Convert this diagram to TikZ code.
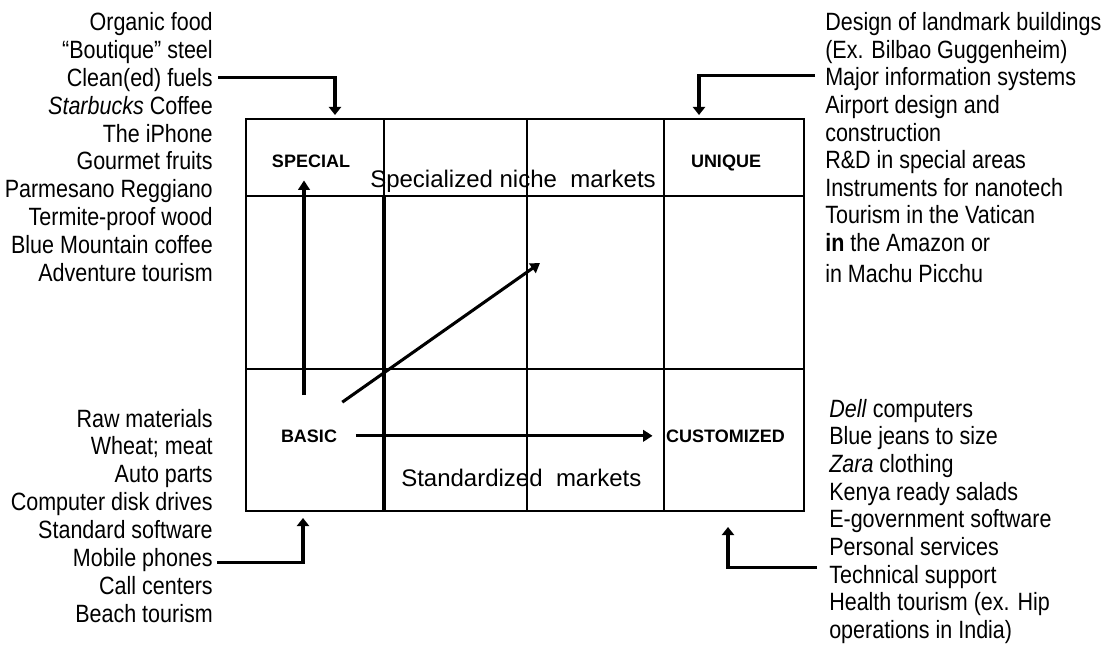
\documentclass[tikz,border=0pt]{standalone}
\usepackage{fontspec}
\setmainfont{Liberation Sans}
\newfontfamily\narrowfont[FakeStretch=0.86]{Liberation Sans}
\usetikzlibrary{arrows.meta}
\begin{document}
\begin{tikzpicture}[x=0.75pt,y=-0.75pt,
  side/.style={font=\narrowfont\fontsize{18.75}{22}\selectfont, inner sep=0pt},
  lab/.style={font=\fontsize{13.5}{16}\selectfont\bfseries, inner sep=0pt},
  big/.style={font=\fontsize{18}{21}\selectfont, inner sep=0pt},
  gridln/.style={line width=1.5pt},
  boxln/.style={line width=1.8pt},
  thickln/.style={line width=2.4pt},
  arr/.style={line width=2.3pt, -{Triangle[length=7pt,width=8.5pt]}},
  conn/.style={line width=2.3pt, -{Triangle[length=6pt,width=9pt]}}]
\useasboundingbox[fill=white] (0,0) rectangle (1110,648);

% ---- left top list
\node[side, anchor=base east] (lt1) at (213,30.5) {Organic food};
\node[side, anchor=base east] (lt2) at (213,58.4) {“Boutique” steel};
\node[side, anchor=base east] (clean) at (213,86.3) {Clean(ed) fuels};
\node[side, anchor=base east] (lt4) at (213,114.2) {\textit{Starbucks} Coffee};
\node[side, anchor=base east] (lt5) at (213,142.1) {The iPhone};
\node[side, anchor=base east] (lt6) at (213,170) {Gourmet fruits};
\node[side, anchor=base east] (lt7) at (213,197.9) {Parmesano Reggiano};
\node[side, anchor=base east] (lt8) at (213,225.8) {Termite-proof wood};
\node[side, anchor=base east] (lt9) at (213,253.7) {Blue Mountain coffee};
\node[side, anchor=base east] (lt10) at (213,281.6) {Adventure tourism};

% ---- left bottom list
\node[side, anchor=base east] (lb1) at (213,427) {Raw materials};
\node[side, anchor=base east] (lb2) at (213,454.9) {Wheat; meat};
\node[side, anchor=base east] (lb3) at (213,482.8) {Auto parts};
\node[side, anchor=base east] (lb4) at (213,510.7) {Computer disk drives};
\node[side, anchor=base east] (lb5) at (213,538.6) {Standard software};
\node[side, anchor=base east] (mobile) at (213,566.5) {Mobile phones};
\node[side, anchor=base east] (lb7) at (213,594.4) {Call centers};
\node[side, anchor=base east] (lb8) at (213,622.3) {Beach tourism};

% ---- right top list
\node[side, anchor=base west] (rt1) at (825,30.7) {Design of landmark buildings};
\node[side, anchor=base west] (rt2) at (825,58.3) {(Ex. Bilbao Guggenheim)};
\node[side, anchor=base west] (major) at (825,85.9) {Major information systems};
\node[side, anchor=base west] (rt4) at (825,113.5) {Airport design and};
\node[side, anchor=base west] (rt5) at (825,141.1) {construction};
\node[side, anchor=base west] (rt6) at (825,168.7) {R\&D in special areas};
\node[side, anchor=base west] (rt7) at (825,196.3) {Instruments for nanotech};
\node[side, anchor=base west] (rt8) at (825,223.9) {Tourism in the Vatican};
\node[side, anchor=base west] (rt9) at (825,252) {\textbf{in} the Amazon or};
\node[side, anchor=base west] (rt10) at (825,283) {in Machu Picchu};

% ---- right bottom list
\node[side, anchor=base west] (rb1) at (829,417) {\textit{Dell} computers};
\node[side, anchor=base west] (rb2) at (829,444.7) {Blue jeans to size};
\node[side, anchor=base west] (rb3) at (829,472.4) {\textit{Zara} clothing};
\node[side, anchor=base west] (rb4) at (829,500.1) {Kenya ready salads};
\node[side, anchor=base west] (rb5) at (829,527.8) {E-government software};
\node[side, anchor=base west] (rb6) at (829,555.5) {Personal services};
\node[side, anchor=base west] (tech) at (829,583.2) {Technical support};
\node[side, anchor=base west] (rb8) at (829,610.9) {Health tourism (ex. Hip};
\node[side, anchor=base west] (rb9) at (829,638.6) {operations in India)};

% ---- centre titles
\node[big, anchor=base west] (niche) at (370,188) {Specialized niche\ \ markets};
\node[big, anchor=base west] (std) at (401,486) {Standardized\ \ markets};

% ---- grid
\draw[boxln] (246,119) rectangle (804,511);
\draw[gridln] (384,119) -- (384,196);
\draw[thickln] (384,196) -- (384,511);
\draw[gridln] (527,119) -- (527,511);
\draw[gridln] (664,119) -- (664,511);
\draw[gridln] (246,196) -- (804,196);
\draw[boxln] (246,369) -- (804,369);

% ---- cell labels
\node[lab, anchor=base] (special) at (311,168) {SPECIAL};
\node[lab, anchor=base] (unique) at (726,168) {UNIQUE};
\node[lab, anchor=base] (basic) at (309,442) {BASIC};
\node[lab, anchor=base] (custom) at (725.5,442) {CUSTOMIZED};

% ---- inner arrows
\coordinate (midcell) at (540,263);
\draw[arr] ([shift={(-5,-34)}]basic.north) -- ([shift={(-7,12)}]special.south);
\draw[arr] ([shift={(5,-27)}]basic.north east) -- (midcell);
\draw[arr] ([xshift=14]basic.east) -- ([xshift=-10]custom.west);

% ---- outer connectors
\coordinate (tipS) at (335,115);
\coordinate (tipU) at (699,115);
\coordinate (tipB) at (303,518);
\coordinate (tipC) at (728,527);
\draw[conn] ([shift={(5,-2)}]clean.east) -| (tipS);
\draw[conn] ([shift={(-10,-4)}]major.west) -| (tipU);
\draw[conn] ([shift={(4,2)}]mobile.east) -| (tipB);
\draw[conn] ([shift={(-12,-9.6)}]tech.west) -| (tipC);
\end{tikzpicture}
\end{document}
